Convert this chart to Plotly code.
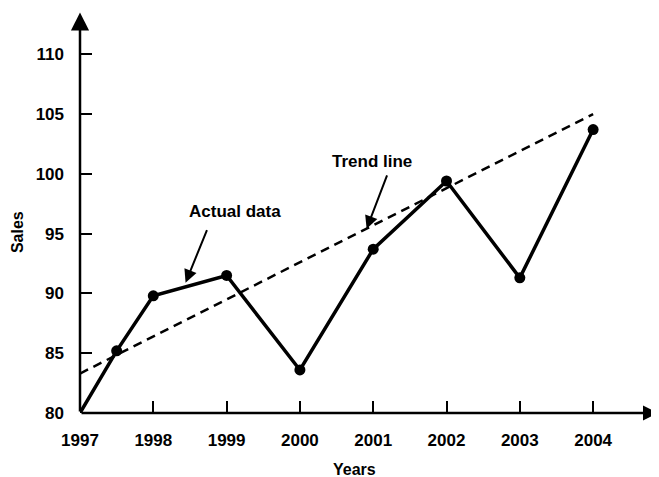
import plotly.graph_objects as go

# Data
years = [1997, 1997.5, 1998, 1999, 2000, 2001, 2002, 2003, 2004]
sales = [80, 85.2, 89.8, 91.5, 83.6, 93.7, 99.4, 91.3, 103.7]
trend_years = [1997, 2004]
trend_sales = [83.3, 105.0]
x_ticks = [1997, 1998, 1999, 2000, 2001, 2002, 2003, 2004]
y_ticks = [80, 85, 90, 95, 100, 105, 110]

FONT = "Liberation Sans"
X_RANGE = [1997, 2004.885]
Y_RANGE = [80, 113.7]

fig = go.Figure()

fig.add_trace(go.Scatter(
    x=trend_years, y=trend_sales, mode="lines",
    line=dict(color="black", width=2.5, dash="9px,6px"),
    hoverinfo="skip", showlegend=False,
))
fig.add_trace(go.Scatter(
    x=years, y=sales, mode="lines",
    line=dict(color="black", width=3.5),
    showlegend=False,
))
fig.add_trace(go.Scatter(
    x=years[1:], y=sales[1:], mode="markers",
    marker=dict(color="black", size=11),
    showlegend=False,
))

lab_font = dict(family=FONT, size=17, color="black", weight="bold")
title_font = dict(family=FONT, size=16, color="black", weight="bold")

annotations = [
    # axes with arrowheads
    dict(x=1997, y=113.5, ax=1997, ay=80, xref="x", yref="y", axref="x", ayref="y",
         text="", showarrow=True, arrowhead=2, arrowsize=1.45, arrowwidth=2.5, arrowcolor="black"),
    dict(x=X_RANGE[1], y=80, ax=1997, ay=80, xref="x", yref="y", axref="x", ayref="y",
         text="", showarrow=True, arrowhead=2, arrowsize=1.2, arrowwidth=2.5, arrowcolor="black"),
    # callouts
    dict(x=1999.11, y=96.86, xref="x", yref="y", text="Actual data", showarrow=False,
         xanchor="center", yanchor="middle", font=lab_font),
    dict(x=1998.44, y=90.9, xref="x", yref="y", ax=22, ay=-54, text="", showarrow=True,
         arrowhead=2, arrowsize=1.3, arrowwidth=2, arrowcolor="black"),
    dict(x=2000.98, y=101.04, xref="x", yref="y", text="Trend line", showarrow=False,
         xanchor="center", yanchor="middle", font=lab_font),
    dict(x=2000.91, y=95.4, xref="x", yref="y", ax=21, ay=-55, text="", showarrow=True,
         arrowhead=2, arrowsize=1.3, arrowwidth=2, arrowcolor="black"),
    # axis titles
    dict(x=-0.109, y=0.449, xref="paper", yref="paper", text="Sales", textangle=-90,
         xanchor="center", yanchor="middle", showarrow=False, font=title_font),
    dict(x=0.475, y=-0.1414, xref="paper", yref="paper", text="Years",
         xanchor="center", yanchor="middle", showarrow=False, font=title_font),
]

# page body has an 8px margin; compensate so the plot lands where the reference has it
fig.update_layout(
    width=651, height=469,
    margin=dict(l=72, r=1, t=2, b=64),
    paper_bgcolor="white", plot_bgcolor="white",
    font=dict(family=FONT, color="black"),
    annotations=annotations,
    xaxis=dict(range=X_RANGE, tickvals=x_ticks, ticktext=[str(v) for v in x_ticks],
               showgrid=False, zeroline=False, showline=False,
               ticks="inside", ticklen=12, tickwidth=2, tickcolor="black",
               tickfont=lab_font, ticklabelstandoff=15),
    yaxis=dict(range=Y_RANGE, tickvals=y_ticks,
               showgrid=False, zeroline=False, showline=False,
               ticks="inside", ticklen=12, tickwidth=2, tickcolor="black",
               tickfont=lab_font, ticklabelstandoff=15),
)

fig.write_html("out.html")
